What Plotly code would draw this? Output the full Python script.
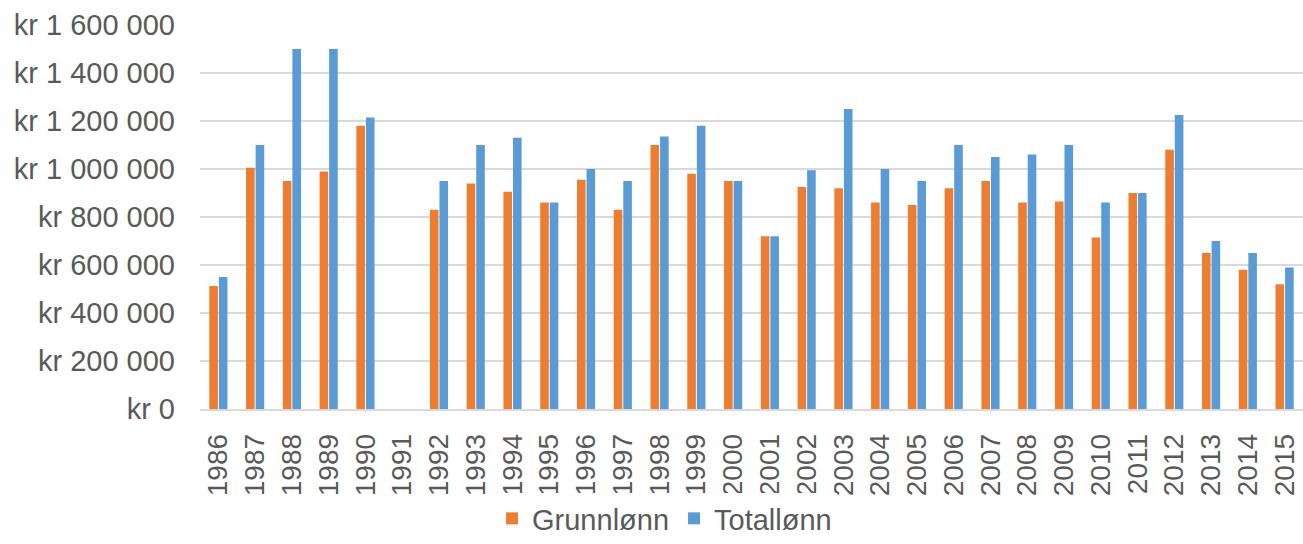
import plotly.graph_objects as go

years = ["1986", "1987", "1988", "1989", "1990", "1991", "1992", "1993", "1994", "1995",
         "1996", "1997", "1998", "1999", "2000", "2001", "2002", "2003", "2004", "2005",
         "2006", "2007", "2008", "2009", "2010", "2011", "2012", "2013", "2014", "2015"]

grunnlonn = [513000, 1005000, 950000, 990000, 1180000, None, 830000, 940000, 905000, 860000,
             955000, 830000, 1100000, 980000, 950000, 720000, 925000, 920000, 860000, 850000,
             920000, 950000, 860000, 865000, 715000, 900000, 1080000, 650000, 580000, 520000]

totallonn = [550000, 1100000, 1500000, 1500000, 1215000, None, 950000, 1100000, 1130000, 860000,
             1000000, 950000, 1135000, 1180000, 950000, 720000, 995000, 1250000, 1000000, 950000,
             1100000, 1050000, 1060000, 1100000, 860000, 900000, 1225000, 700000, 650000, 590000]

y_tickvals = [0, 200000, 400000, 600000, 800000, 1000000, 1200000, 1400000, 1600000]
y_ticktext = ["kr 0", "kr 200 000", "kr 400 000", "kr 600 000", "kr 800 000",
              "kr 1 000 000", "kr 1 200 000", "kr 1 400 000", "kr 1 600 000"]

text_color = "#595959"
font_family = "Liberation Sans, Arial, sans-serif"

fig = go.Figure()
fig.add_trace(go.Bar(x=years, y=grunnlonn, name="Grunnlønn",
                     marker=dict(color="#ED7D31", line=dict(width=0))))
fig.add_trace(go.Bar(x=years, y=totallonn, name="Totallønn",
                     marker=dict(color="#5B9BD5", line=dict(width=0))))

fig.update_layout(
    width=1303, height=544,
    margin=dict(l=200, r=0, t=25, b=135, autoexpand=False),
    paper_bgcolor="white", plot_bgcolor="white",
    barmode="group", bargap=0.48, bargroupgap=0.1,
    font=dict(family=font_family, color=text_color, size=29),
    showlegend=True,
    legend=dict(orientation="h", xref="container", yref="container",
                x=0.51, xanchor="center", y=0.0, yanchor="bottom",
                font=dict(size=29, color=text_color), itemwidth=30, traceorder="normal"),
)

fig.update_xaxes(
    type="category", tickangle=-90, showgrid=False, automargin=False,
    showline=True, linecolor="#d9d9d9", linewidth=1.5,
    tickfont=dict(size=28, color=text_color),
    ticks="", ticklabelstandoff=12,
)
fig.update_yaxes(
    range=[0, 1600000], tickvals=y_tickvals, ticktext=y_ticktext, automargin=False,
    showgrid=True, gridcolor="#d9d9d9", gridwidth=1.5,
    zeroline=False, showline=False,
    tickfont=dict(size=29, color=text_color), ticklabelstandoff=24,
)

fig.write_html(
    "out.html",
    config={"displayModeBar": False},
    post_script="document.body.style.margin='0';document.body.style.overflow='hidden';",
)
